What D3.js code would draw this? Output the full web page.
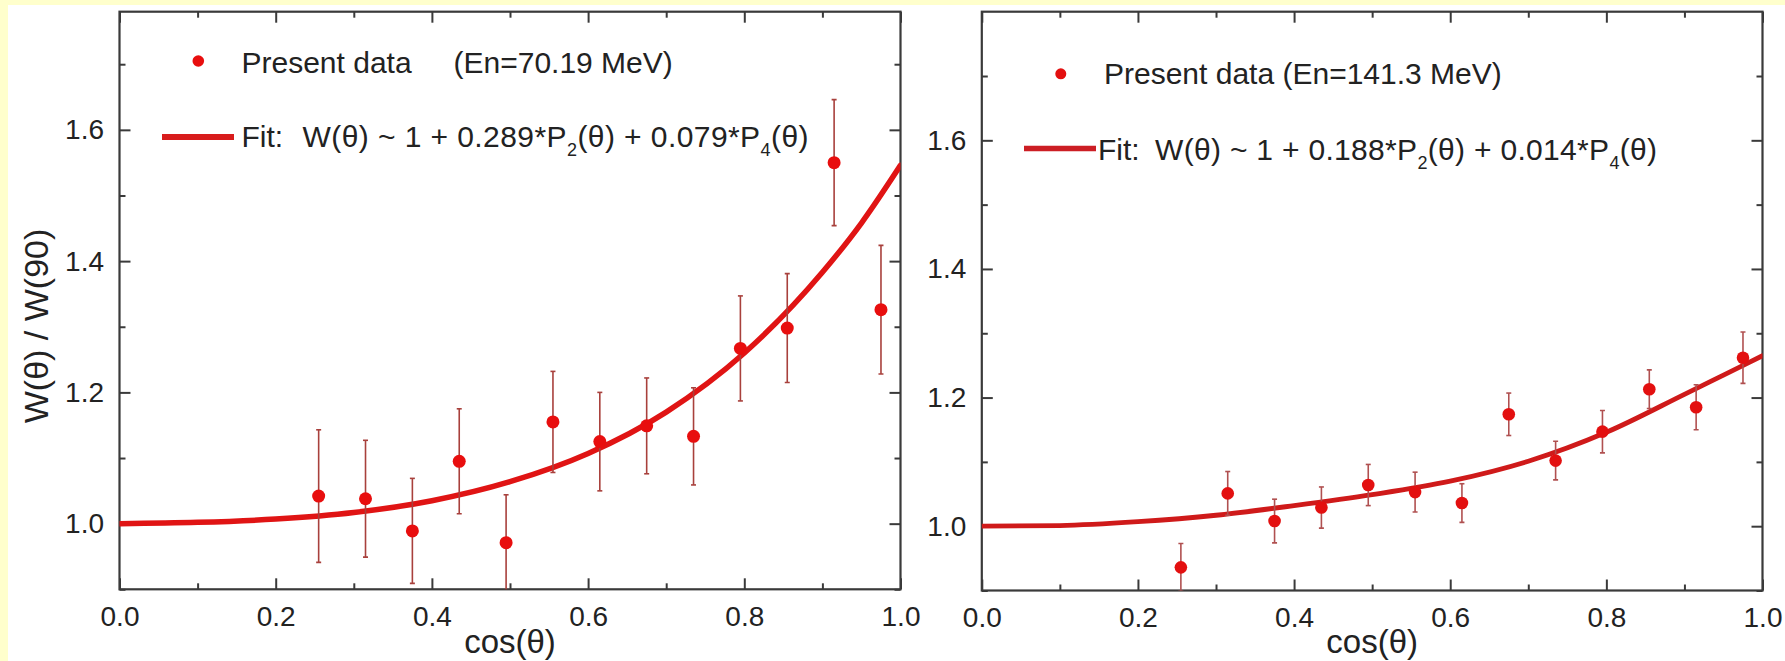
<!DOCTYPE html>
<html>
<head>
<meta charset="utf-8">
<script src="https://cdn.jsdelivr.net/npm/d3@7"></script>
<style>
  html, body { margin: 0; padding: 0; background: #ffffff; }
  svg { display: block; font-family: "Liberation Sans", Arial, sans-serif; }
</style>
</head>
<body>
<svg id="chart" width="1785" height="661"></svg>
<script>
// ---------------- data ----------------
const cosTheta = [0.255, 0.315, 0.375, 0.435, 0.495, 0.555, 0.615, 0.675, 0.735, 0.795, 0.855, 0.915, 0.975];

const leftW    = [1.042, 1.038, 0.989, 1.095, 0.971, 1.155, 1.125, 1.149, 1.133, 1.267, 1.298, 1.550, 1.326];
const leftErr  = [0.101, 0.089, 0.080, 0.080, 0.073, 0.077, 0.075, 0.073, 0.074, 0.080, 0.083, 0.096, 0.098];

const rightW   = [0.936, 1.051, 1.008, 1.029, 1.064, 1.053, 1.036, 1.174, 1.102, 1.147, 1.213, 1.185, 1.262];
const rightErr = [0.037, 0.034, 0.034, 0.032, 0.032, 0.031, 0.030, 0.033, 0.030, 0.033, 0.030, 0.035, 0.040];

// fit curves, values
const fitX      = [0, 0.1, 0.2, 0.3, 0.4, 0.5, 0.6, 0.7, 0.8, 0.9, 0.95, 1.0];
const leftFitW  = [1.000, 1.002, 1.007, 1.017, 1.035, 1.064, 1.107, 1.170, 1.260, 1.383, 1.458, 1.546];
const rightFitW = [1.000, 1.001, 1.007, 1.017, 1.032, 1.049, 1.070, 1.101, 1.146, 1.205, 1.235, 1.265];

const xMajorTicks = [0, 0.2, 0.4, 0.6, 0.8, 1.0];
const xMinorTicks = [0.1, 0.3, 0.5, 0.7, 0.9];
const yMajorTicks = [1.0, 1.2, 1.4, 1.6];
const yMinorTicks = [0.9, 1.1, 1.3, 1.5, 1.7];

const leftYDomain  = [0.9, 1.78];
const rightYDomain = [0.9, 1.8];

const xLabel = "cos(θ)";
const yLabel = "W(θ) / W(90)";

const leftLegendData = ["Present data", "(En=70.19 MeV)"];
const rightLegendData = ["Present data (En=141.3 MeV)"];
const fitLabel = "Fit:";
const leftFormula  = [["W(θ) ~ 1 + 0.289*P", false], ["2", true], ["(θ) + 0.079*P", false], ["4", true], ["(θ)", false]];
const rightFormula = [["W(θ) ~ 1 + 0.188*P", false], ["2", true], ["(θ) + 0.014*P", false], ["4", true], ["(θ)", false]];

// ---------------- drawing ----------------
const svg = d3.select("#chart");
const W = 1785, H = 661;

svg.append("rect").attr("x", 0).attr("y", 0).attr("width", W).attr("height", H).attr("fill", "#ffffff");
svg.append("rect").attr("x", 0).attr("y", 0).attr("width", W).attr("height", 5).attr("fill", "#ffffcc");
svg.append("rect").attr("x", 0).attr("y", 0).attr("width", 8).attr("height", H).attr("fill", "#ffffcc");

const textColor = "#222";
const axisColor = "#3a3a3a";

function panel(cfg) {
  const x = d3.scaleLinear().domain([0, 1]).range([cfg.left, cfg.right]);
  const y = d3.scaleLinear().domain(cfg.yDomain).range([cfg.bottom, cfg.top]);
  const g = svg.append("g");
  const clipId = "clip" + cfg.id;
  svg.append("clipPath").attr("id", clipId).append("rect")
    .attr("x", cfg.left).attr("y", cfg.top)
    .attr("width", cfg.right - cfg.left).attr("height", cfg.bottom - cfg.top);

  const styleAxis = sel => {
    sel.select(".domain").remove();
    sel.selectAll(".tick line").attr("stroke", axisColor).attr("stroke-width", 2);
    sel.selectAll(".tick text").attr("fill", textColor)
      .style("font-size", "28px").style("font-family", '"Liberation Sans", Arial, sans-serif');
  };

  // bottom
  g.append("g").attr("transform", `translate(0,${cfg.bottom})`)
    .call(d3.axisBottom(x).tickValues(xMajorTicks).tickSizeInner(-11).tickSizeOuter(0).tickPadding(17).tickFormat(d3.format(".1f")))
    .call(styleAxis);
  g.append("g").attr("transform", `translate(0,${cfg.bottom})`)
    .call(d3.axisBottom(x).tickValues(xMinorTicks).tickSizeInner(-6).tickSizeOuter(0).tickFormat(""))
    .call(styleAxis);
  // top
  g.append("g").attr("transform", `translate(0,${cfg.top})`)
    .call(d3.axisTop(x).tickValues(xMajorTicks).tickSizeInner(-11).tickSizeOuter(0).tickFormat(""))
    .call(styleAxis);
  g.append("g").attr("transform", `translate(0,${cfg.top})`)
    .call(d3.axisTop(x).tickValues(xMinorTicks).tickSizeInner(-6).tickSizeOuter(0).tickFormat(""))
    .call(styleAxis);
  // left
  g.append("g").attr("transform", `translate(${cfg.left},0)`)
    .call(d3.axisLeft(y).tickValues(yMajorTicks).tickSizeInner(-11).tickSizeOuter(0).tickPadding(15.5).tickFormat(d3.format(".1f")))
    .call(styleAxis);
  g.append("g").attr("transform", `translate(${cfg.left},0)`)
    .call(d3.axisLeft(y).tickValues(yMinorTicks).tickSizeInner(-6).tickSizeOuter(0).tickFormat(""))
    .call(styleAxis);
  // right
  g.append("g").attr("transform", `translate(${cfg.right},0)`)
    .call(d3.axisRight(y).tickValues(yMajorTicks).tickSizeInner(-11).tickSizeOuter(0).tickFormat(""))
    .call(styleAxis);
  g.append("g").attr("transform", `translate(${cfg.right},0)`)
    .call(d3.axisRight(y).tickValues(yMinorTicks).tickSizeInner(-6).tickSizeOuter(0).tickFormat(""))
    .call(styleAxis);

  // frame
  g.append("rect").attr("x", cfg.left).attr("y", cfg.top)
    .attr("width", cfg.right - cfg.left).attr("height", cfg.bottom - cfg.top)
    .attr("fill", "none").attr("stroke", axisColor).attr("stroke-width", 2.2);

  const plot = g.append("g").attr("clip-path", `url(#${clipId})`);

  // fit curve
  const line = d3.line().x(d => x(d[0])).y(d => y(d[1])).curve(d3.curveMonotoneX);
  plot.append("path").datum(fitX.map((v, i) => [v, cfg.fit[i]]))
    .attr("d", line).attr("fill", "none")
    .attr("stroke", cfg.fitColor).attr("stroke-width", cfg.fitWidth).attr("stroke-linecap", "round");

  const pts = cosTheta.map((v, i) => ({ x: v, y: cfg.vals[i], e: cfg.errs[i] }));
  // error bars
  const eb = plot.append("g").attr("stroke", cfg.errColor).attr("stroke-width", 1.6);
  eb.selectAll("line.v").data(pts).join("line").attr("class", "v")
    .attr("x1", d => x(d.x)).attr("x2", d => x(d.x))
    .attr("y1", d => y(d.y - d.e)).attr("y2", d => y(d.y + d.e));
  eb.selectAll("line.t").data(pts).join("line").attr("class", "t")
    .attr("x1", d => x(d.x) - 2.5).attr("x2", d => x(d.x) + 2.5)
    .attr("y1", d => y(d.y + d.e)).attr("y2", d => y(d.y + d.e));
  eb.selectAll("line.b").data(pts).join("line").attr("class", "b")
    .attr("x1", d => x(d.x) - 2.5).attr("x2", d => x(d.x) + 2.5)
    .attr("y1", d => y(d.y - d.e)).attr("y2", d => y(d.y - d.e));

  // points
  plot.selectAll("circle.pt").data(pts).join("circle").attr("class", "pt")
    .attr("cx", d => x(d.x)).attr("cy", d => y(d.y)).attr("r", cfg.r)
    .attr("fill", cfg.dotColor);

  // axis title
  g.append("text").attr("x", (cfg.left + cfg.right) / 2).attr("y", 653)
    .attr("text-anchor", "middle").attr("fill", textColor)
    .style("font-size", "33px").text(xLabel);

  return { x, y, g };
}

const L = panel({ id: "L", left: 119.5, right: 900.5, top: 11.7, bottom: 589.3, yDomain: leftYDomain,
  vals: leftW, errs: leftErr, fit: leftFitW, fitColor: "#e01414", fitWidth: 5.5,
  errColor: "#a8403c", dotColor: "#e80e0e", r: 6.5 });
const R = panel({ id: "R", left: 981.8, right: 1762.5, top: 11.7, bottom: 590.5, yDomain: rightYDomain,
  vals: rightW, errs: rightErr, fit: rightFitW, fitColor: "#cf1a1a", fitWidth: 4.8,
  errColor: "#b05050", dotColor: "#e31010", r: 6.3 });

// y axis title (left panel only)
svg.append("text").attr("transform", "translate(48,326) rotate(-90)")
  .attr("text-anchor", "middle").attr("fill", textColor)
  .style("font-size", "34px").text(yLabel);

// legends
function formulaText(x0, y0, parts, color, len) {
  const t = svg.append("text").attr("x", x0).attr("y", y0).attr("fill", color).style("font-size", "30px")
    .attr("textLength", len).attr("lengthAdjust", "spacing");
  parts.forEach(([s, sub]) => {
    if (sub) {
      t.append("tspan").attr("dy", 9).style("font-size", "18px").text(s);
    } else {
      const sp = t.append("tspan").text(s);
      if (t.selectAll("tspan").size() > 1) sp.attr("dy", -9);
    }
  });
}

// left legend
svg.append("circle").attr("cx", 198.3).attr("cy", 61).attr("r", 5.8).attr("fill", "#e80e0e");
svg.append("text").attr("x", 241.5).attr("y", 72.5).attr("fill", textColor).style("font-size", "30px").text(leftLegendData[0]);
svg.append("text").attr("x", 453.5).attr("y", 72.5).attr("fill", textColor).style("font-size", "30px").text(leftLegendData[1]);
svg.append("line").attr("x1", 162).attr("x2", 234).attr("y1", 137).attr("y2", 137)
  .attr("stroke", "#d81c1c").attr("stroke-width", 6);
svg.append("text").attr("x", 241.5).attr("y", 147).attr("fill", textColor).style("font-size", "30px").text(fitLabel);
formulaText(302.5, 147, leftFormula, textColor, 506);

// right legend
svg.append("circle").attr("cx", 1060.8).attr("cy", 73.8).attr("r", 5.5).attr("fill", "#e31010");
svg.append("text").attr("x", 1104).attr("y", 84).attr("fill", textColor).style("font-size", "30px").text(rightLegendData[0]);
svg.append("line").attr("x1", 1024).attr("x2", 1096).attr("y1", 148.4).attr("y2", 148.4)
  .attr("stroke", "#cc1e24").attr("stroke-width", 5.5);
svg.append("text").attr("x", 1098).attr("y", 160).attr("fill", textColor).style("font-size", "30px").text(fitLabel);
formulaText(1155, 160, rightFormula, textColor, 502);
</script>
</body>
</html>
